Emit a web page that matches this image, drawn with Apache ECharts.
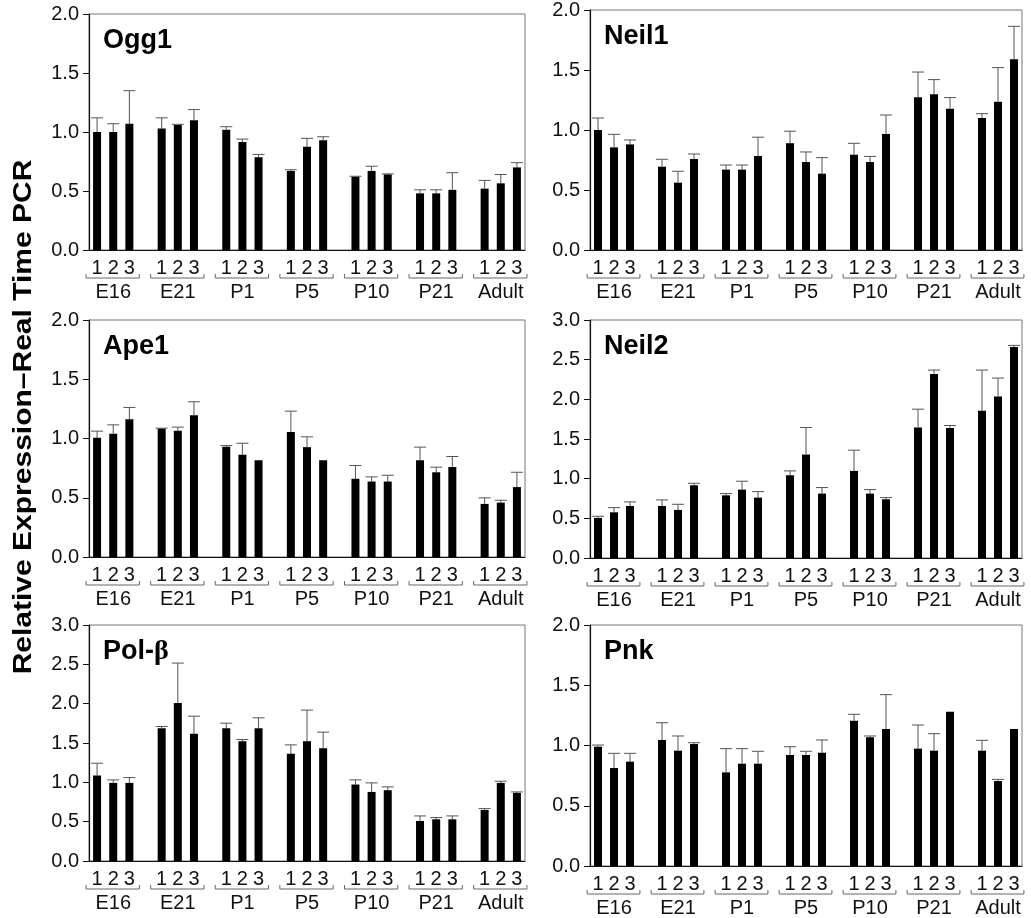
<!DOCTYPE html>
<html>
<head>
<meta charset="utf-8">
<script src="https://cdn.jsdelivr.net/npm/echarts@6/dist/echarts.min.js"></script>
<style>html,body{margin:0;padding:0;background:#fff;}#c{width:1031px;height:918px;}</style>
</head>
<body>
<div id="c"></div>
<script>
// ---- data ----
const groups = ['E16', 'E21', 'P1', 'P5', 'P10', 'P21', 'Adult'];
const reps = ['1', '2', '3'];
const yTitle = 'Relative Expression\u2013Real Time PCR';

const ogg1Mean = [1.00, 1.00, 1.07, 1.03, 1.06, 1.10, 1.02, 0.915, 0.785, 0.67, 0.875, 0.93, 0.62, 0.67, 0.64, 0.48, 0.48, 0.51, 0.52, 0.565, 0.70];
const ogg1Top  = [1.12, 1.07, 1.35, 1.12, 1.065, 1.19, 1.045, 0.94, 0.81, 0.68, 0.946, 0.96, 0.625, 0.71, 0.645, 0.51, 0.51, 0.655, 0.59, 0.64, 0.74];

const neil1Mean = [1.00, 0.855, 0.88, 0.694, 0.561, 0.758, 0.67, 0.67, 0.783, 0.89, 0.733, 0.636, 0.794, 0.733, 0.967, 1.272, 1.297, 1.178, 1.10, 1.236, 1.59];
const neil1Top  = [1.10, 0.964, 0.917, 0.756, 0.656, 0.80, 0.708, 0.708, 0.94, 0.99, 0.817, 0.77, 0.889, 0.78, 1.125, 1.483, 1.42, 1.27, 1.136, 1.52, 1.864];

const ape1Mean = [1.006, 1.04, 1.163, 1.082, 1.065, 1.197, 0.93, 0.862, 0.817, 1.054, 0.927, 0.817, 0.66, 0.637, 0.637, 0.817, 0.715, 0.76, 0.448, 0.459, 0.59];
const ape1Top  = [1.062, 1.115, 1.262, 1.087, 1.096, 1.31, 0.94, 0.96, 0.817, 1.231, 1.014, 0.817, 0.772, 0.676, 0.69, 0.927, 0.758, 0.848, 0.499, 0.479, 0.715];

const neil2Mean = [0.505, 0.576, 0.656, 0.656, 0.606, 0.917, 0.79, 0.862, 0.761, 1.043, 1.304, 0.812, 1.098, 0.812, 0.74, 1.645, 2.318, 1.64, 1.855, 2.036, 2.659];
const neil2Top  = [0.526, 0.635, 0.707, 0.732, 0.677, 0.942, 0.812, 0.968, 0.837, 1.098, 1.645, 0.888, 1.359, 0.862, 0.761, 1.876, 2.369, 1.67, 2.369, 2.268, 2.68];

const polbMean = [1.086, 0.993, 0.993, 1.689, 2.007, 1.616, 1.689, 1.523, 1.689, 1.362, 1.523, 1.434, 0.972, 0.878, 0.90, 0.509, 0.53, 0.53, 0.649, 0.993, 0.866];
const polbTop  = [1.243, 1.031, 1.06, 1.71, 2.516, 1.841, 1.752, 1.544, 1.82, 1.476, 1.918, 1.638, 1.031, 0.993, 0.942, 0.573, 0.552, 0.573, 0.666, 1.014, 0.878];

const pnkMean = [0.99, 0.813, 0.866, 1.046, 0.957, 1.012, 0.777, 0.849, 0.849, 0.921, 0.921, 0.94, 1.206, 1.068, 1.137, 0.974, 0.957, 1.281, 0.957, 0.705, 1.137];
const pnkTop  = [1.004, 0.935, 0.935, 1.189, 1.079, 1.023, 0.974, 0.974, 0.952, 0.99, 0.952, 1.046, 1.259, 1.079, 1.422, 1.17, 1.098, 1.281, 1.043, 0.719, 1.137];

const yMax = { ogg1: 2, neil1: 2, ape1: 2, neil2: 3, polb: 3, pnk: 2 };
const yStep = 0.5;

// ---- layout ----
const panels = [
  { name: 'Ogg1',  mean: ogg1Mean,  top: ogg1Top,  max: yMax.ogg1,  grid: { left: 89,  top: 14,  width: 436, height: 236 } },
  { name: 'Neil1', mean: neil1Mean, top: neil1Top, max: yMax.neil1, grid: { left: 590, top: 10,  width: 432, height: 240 } },
  { name: 'Ape1',  mean: ape1Mean,  top: ape1Top,  max: yMax.ape1,  grid: { left: 89,  top: 320, width: 436, height: 237 } },
  { name: 'Neil2', mean: neil2Mean, top: neil2Top, max: yMax.neil2, grid: { left: 590, top: 320, width: 432, height: 238 } },
  { name: 'Pol-β', mean: polbMean,  top: polbTop,  max: yMax.polb,  grid: { left: 89,  top: 625, width: 436, height: 236 } },
  { name: 'Pnk',   mean: pnkMean,   top: pnkTop,   max: yMax.pnk,   grid: { left: 590, top: 625, width: 432, height: 241 } }
];

const FONT = 'Liberation Sans, Arial, sans-serif';

// slot layout: 3 bars + 1 gap per group, no trailing gap
const slotLabels = [];
const slotOf = []; // bar index -> slot index
groups.forEach((g, gi) => {
  reps.forEach((r, ri) => { slotOf.push(slotLabels.length); slotLabels.push(r); });
  if (gi < groups.length - 1) slotLabels.push('');
});

const grids = [], xAxes = [], yAxes = [], series = [], titles = [];
panels.forEach((p, k) => {
  grids.push(Object.assign({ show: true, borderColor: '#777', borderWidth: 1, backgroundColor: 'transparent' }, p.grid));
  xAxes.push({
    type: 'category', gridIndex: k, data: slotLabels,
    axisLine: { lineStyle: { color: '#111', width: 1.2 } },
    axisTick: { show: false },
    axisLabel: { interval: 0, fontSize: 20, color: '#111', fontFamily: FONT, margin: 8 }
  });
  yAxes.push({
    type: 'value', gridIndex: k, min: 0, max: p.max, interval: yStep,
    axisLine: { show: true, lineStyle: { color: '#111', width: 1.2 } },
    axisTick: { show: true, length: 6, lineStyle: { color: '#111' } },
    splitLine: { show: false },
    axisLabel: { fontSize: 20, color: '#111', fontFamily: FONT, margin: 10, formatter: v => v.toFixed(1) }
  });
  const barData = slotLabels.map(() => '-');
  p.mean.forEach((v, i) => { barData[slotOf[i]] = v; });
  series.push({
    type: 'bar', xAxisIndex: k, yAxisIndex: k, data: barData, barWidth: 8,
    itemStyle: { color: '#000' }, silent: true, animation: false
  });
  // error bars (upper only)
  series.push({
    type: 'custom', xAxisIndex: k, yAxisIndex: k, clip: false, animation: false, silent: true,
    data: p.mean.map((v, i) => [slotOf[i], v, p.top[i]]),
    renderItem: (params, api) => {
      const s = api.value(0), m = api.value(1), t = api.value(2);
      if (t <= m) return null;
      const a = api.coord([s, m]), b = api.coord([s, t]);
      const st = { stroke: '#555', lineWidth: 1 };
      return { type: 'group', children: [
        { type: 'line', shape: { x1: a[0], y1: a[1], x2: b[0], y2: b[1] }, style: st },
        { type: 'line', shape: { x1: b[0] - 6, y1: b[1], x2: b[0] + 6, y2: b[1] }, style: st }
      ] };
    }
  });
  // group brackets and group names
  series.push({
    type: 'custom', xAxisIndex: k, yAxisIndex: k, clip: false, animation: false, silent: true,
    data: groups.map((g, gi) => [slotOf[gi * 3], slotOf[gi * 3 + 2]]),
    renderItem: (params, api) => {
      const s0 = api.value(0), s1 = api.value(1);
      const w = api.size([1, 0])[0];
      const a = api.coord([s0, 0]), b = api.coord([s1, 0]);
      const x0 = a[0] - 0.68 * w, x1 = b[0] + 0.62 * w, y = a[1] + 28;
      const st = { stroke: '#666', lineWidth: 1, fill: null };
      return { type: 'group', children: [
        { type: 'polyline', shape: { points: [[x0, y - 4], [x0, y], [x1, y], [x1, y - 4]] }, style: st },
        { type: 'text', style: { text: groups[params.dataIndex], x: (a[0] + b[0]) / 2, y: a[1] + 42,
          align: 'center', verticalAlign: 'middle', fontSize: 20, fontFamily: FONT, fill: '#111' } }
      ] };
    }
  });
  const isBeta = p.name.indexOf('β') >= 0;
  titles.push({
    text: isBeta ? '{a|Pol-}{b|β}' : p.name,
    left: p.grid.left + 9, top: p.grid.top + 8,
    textStyle: isBeta ? {
      rich: {
        a: { fontSize: 27, fontWeight: 'bold', fontFamily: FONT, color: '#000' },
        b: { fontSize: 28, fontFamily: 'Liberation Serif, DejaVu Serif, serif', color: '#000' }
      }
    } : { fontSize: 27, fontWeight: 'bold', fontFamily: FONT, color: '#000' }
  });
});

const chart = echarts.init(document.getElementById('c'), null, { renderer: 'canvas' });
chart.setOption({
  backgroundColor: '#fff',
  animation: false,
  title: titles,
  grid: grids,
  xAxis: xAxes,
  yAxis: yAxes,
  series: series,
  graphic: [{
    type: 'text', x: 24, y: 417, rotation: Math.PI / 2, scaleX: 1.2,
    style: { text: yTitle, fontSize: 25, fontWeight: 'bold', fontFamily: FONT, fill: '#000', align: 'center', verticalAlign: 'middle' }
  }]
});
</script>
</body>
</html>
